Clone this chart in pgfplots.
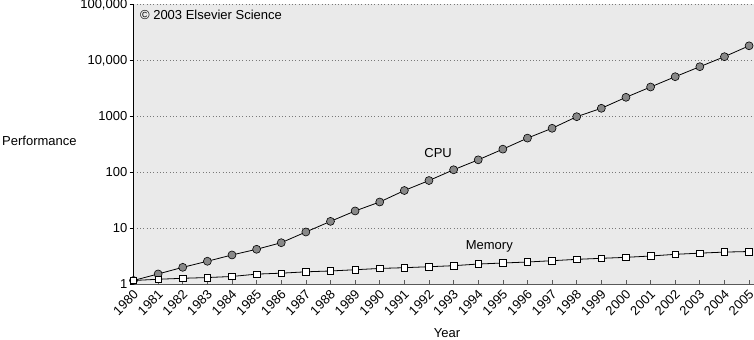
\documentclass[border=0pt]{standalone}
\usepackage{fontspec}
\setmainfont{Liberation Sans}
\usepackage{pgfplots}
\pgfplotsset{compat=1.18}
\definecolor{bg}{RGB}{234,234,234}
\definecolor{cpufill}{RGB}{136,136,136}
\definecolor{gridc}{RGB}{120,120,120}
\begin{document}
\begin{tikzpicture}[font=\fontsize{13bp}{15bp}\selectfont]
\begin{axis}[
  scale only axis, width=620.5bp, height=280bp,
  ymode=log, xmin=1980, xmax=2005.2, ymin=1, ymax=100000,
  axis x line*=bottom, axis y line*=left,
  axis line style={-},
  x axis line style={draw=black!65, line width=1.6bp},
  y axis line style={draw=black, line width=0.8bp},
  axis background/.style={fill=bg},
  xtick={1980,...,2005},
  ytick={1,10,100,1000,10000,100000},
  yticklabels={1,10,100,1000,{10,000},{100,000}},
  yminorticks=false, xminorticks=false,
  ymajorgrids, major grid style={dash pattern=on 0.7bp off 2.6bp, gridc, line width=0.7bp},
  tick align=outside, major tick length=4bp,
  tick style={black, line width=0.6bp},
  x tick style={yshift=4bp, black!65},
  /pgf/number format/assume math mode=true,
  x tick label style={/pgf/number format/1000 sep={}, inner sep=0pt, xshift=2.5bp, yshift=-4bp, rotate=45, anchor=east},
  y tick label style={inner sep=0pt, anchor=east, xshift=-2bp},
  xlabel={Year}, ylabel={Performance},
  every axis y label/.style={at={(axis description cs:-0.2119,0.5118)}, anchor=west, inner sep=0pt},
  every axis x label/.style={at={(axis description cs:0.5052,-0.176)}, anchor=center, inner sep=0pt},
  clip=false,
]
\addplot[black, line width=0.8bp, mark=*, mark size=4bp, mark options={fill=cpufill, draw=black, line width=0.6bp}] coordinates {
(1980,1.17) (1981,1.53) (1982,2.01) (1983,2.58) (1984,3.34) (1985,4.22)
(1986,5.53) (1987,8.59) (1988,13.3) (1989,20.4) (1990,29.5) (1991,47.3)
(1992,71.3) (1993,111) (1994,167) (1995,259) (1996,408) (1997,611)
(1998,984) (1999,1390) (2000,2183) (2001,3336) (2002,5094) (2003,7690)
(2004,11600) (2005,18150)
};
\addplot[black, line width=0.8bp, mark=square*, mark size=3.3bp, mark options={fill=white, draw=black, line width=0.6bp}] coordinates {
(1980,1.17) (1981,1.23) (1982,1.28) (1983,1.32) (1984,1.38) (1985,1.52)
(1986,1.58) (1987,1.67) (1988,1.73) (1989,1.82) (1990,1.92) (1991,1.98)
(1992,2.06) (1993,2.15) (1994,2.30) (1995,2.40) (1996,2.50) (1997,2.64)
(1998,2.79) (1999,2.91) (2000,3.03) (2001,3.20) (2002,3.43) (2003,3.60)
(2004,3.76) (2005,3.85)
};
\node at (axis cs:1992.37,224) {CPU};
\node at (axis cs:1994.45,4.69) {Memory};
\node[anchor=west, inner sep=0pt] at (axis cs:1980.26,64400) {© 2003 Elsevier Science};
\end{axis}
\pgfresetboundingbox
\path[use as bounding box] (-133.5bp,-55.7bp) rectangle (620.5bp,284.3bp);
\end{tikzpicture}
\end{document}
